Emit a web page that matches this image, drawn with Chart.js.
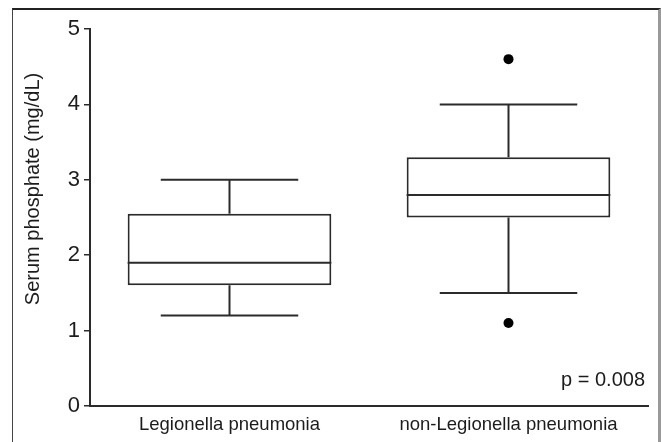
<!DOCTYPE html>
<html>
<head>
<meta charset="utf-8">
<script src="https://cdn.jsdelivr.net/npm/chart.js@4.4.1/dist/chart.umd.min.js"></script>
<style>
  body { margin: 0; background: #fff; }
  #wrap { position: relative; width: 661px; height: 442px; }
  #frame {
    position: absolute; left: 12px; top: 8px; width: 645px; height: 440px;
    border-left: 1.5px solid #444; border-top: 2px solid #222; border-right: 3px solid #999;
    pointer-events: none;
  }
</style>
</head>
<body>
<div id="wrap">
  <canvas id="myChart" width="661" height="442"></canvas>
  <div id="frame"></div>
</div>
<script>
// box plot values
const categories = ['Legionella pneumonia', 'non-Legionella pneumonia'];
const whiskerLow = [1.2, 1.5];
const q1 = [1.6, 2.5];
const median = [1.9, 2.8];
const q3 = [2.55, 3.3];
const whiskerHigh = [3.0, 4.0];
const outlierHigh = [null, 4.6];
const outlierLow = [null, 1.1];
const yTicks = [0, 1, 2, 3, 4, 5];
const pText = 'p = 0.008';

const lineColor = '#2b2b2b';
const textColor = '#1c1c1c';

// whiskers, caps and medians drawn on top of the floating bars
const boxPlotLines = {
  id: 'boxPlotLines',
  afterDatasetsDraw(chart) {
    const ctx = chart.ctx;
    const y = chart.scales.y;
    const bars = chart.getDatasetMeta(0).data;
    ctx.save();
    ctx.strokeStyle = lineColor;
    ctx.lineWidth = 2;
    bars.forEach(function (bar, i) {
      const half = bar.width / 2;
      const cap = bar.width * 0.675 / 2;
      const x = bar.x;
      ctx.beginPath();
      // median
      ctx.moveTo(x - half, y.getPixelForValue(median[i]));
      ctx.lineTo(x + half, y.getPixelForValue(median[i]));
      // upper whisker
      ctx.moveTo(x, y.getPixelForValue(q3[i]));
      ctx.lineTo(x, y.getPixelForValue(whiskerHigh[i]));
      ctx.moveTo(x - cap, y.getPixelForValue(whiskerHigh[i]));
      ctx.lineTo(x + cap, y.getPixelForValue(whiskerHigh[i]));
      // lower whisker
      ctx.moveTo(x, y.getPixelForValue(q1[i]));
      ctx.lineTo(x, y.getPixelForValue(whiskerLow[i]));
      ctx.moveTo(x - cap, y.getPixelForValue(whiskerLow[i]));
      ctx.lineTo(x + cap, y.getPixelForValue(whiskerLow[i]));
      ctx.stroke();
    });
    ctx.restore();
  },
  afterDraw(chart) {
    const ctx = chart.ctx;
    const area = chart.chartArea;
    ctx.save();
    ctx.fillStyle = textColor;
    ctx.font = '20px "Liberation Sans", Arial, sans-serif';
    ctx.textAlign = 'right';
    ctx.textBaseline = 'middle';
    ctx.fillText(pText, area.right - 3, area.bottom - 26);
    // y axis title
    ctx.translate(33, area.top + 160);
    ctx.rotate(-Math.PI / 2);
    ctx.textAlign = 'center';
    ctx.fillText('Serum phosphate (mg/dL)', 0, 0);
    ctx.restore();
  }
};

const context = document.getElementById('myChart').getContext('2d');
const myChart = new Chart(context, {
  type: 'bar',
  data: {
    labels: categories,
    datasets: [
      {
        label: 'IQR',
        data: q1.map(function (v, i) { return [v, q3[i]]; }),
        backgroundColor: '#ffffff',
        borderColor: lineColor,
        borderWidth: 2,
        borderSkipped: false,
        categoryPercentage: 1,
        barPercentage: 0.73
      },
      {
        type: 'line',
        label: 'outliers high',
        data: outlierHigh,
        showLine: false,
        pointRadius: 5,
        pointBackgroundColor: '#000',
        pointBorderWidth: 0
      },
      {
        type: 'line',
        label: 'outliers low',
        data: outlierLow,
        showLine: false,
        pointRadius: 5,
        pointBackgroundColor: '#000',
        pointBorderWidth: 0
      }
    ]
  },
  options: {
    responsive: false,
    animation: false,
    layout: { padding: { top: 29, right: 13, bottom: 0, left: 0 } },
    plugins: {
      legend: { display: false },
      tooltip: { enabled: false }
    },
    scales: {
      x: {
        grid: { display: false, drawTicks: false },
        border: { display: true, color: lineColor, width: 2 },
        ticks: {
          color: textColor,
          padding: 8,
          font: { family: '"Liberation Sans", Arial, sans-serif', size: 18.5 }
        },
        afterFit: function (scale) { scale.height = 36; }
      },
      y: {
        min: 0,
        max: 5,
        afterBuildTicks: function (scale) {
          scale.ticks = yTicks.map(function (v) { return { value: v }; });
        },
        grid: { drawOnChartArea: false, drawTicks: true, tickLength: 6, color: lineColor, lineWidth: 1.5 },
        border: { display: true, color: lineColor, width: 2 },
        ticks: {
          color: textColor,
          padding: 4,
          font: { family: '"Liberation Sans", Arial, sans-serif', size: 22 }
        },
        afterFit: function (scale) { scale.width = 90; }
      }
    }
  },
  plugins: [boxPlotLines]
});
</script>
</body>
</html>
